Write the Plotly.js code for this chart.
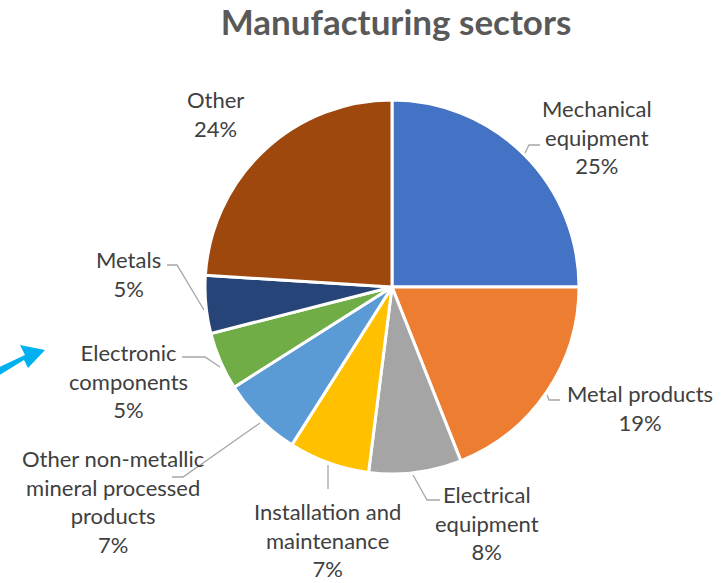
<!DOCTYPE html>
<html>
<head>
<meta charset="utf-8">
<script src="https://cdn.plot.ly/plotly-3.0.1.min.js"></script>
<style>html,body{margin:0;padding:0;background:#fff;}#chart{width:721px;height:583px;}</style>
</head>
<body>
<div id="chart"></div>
<script>
// ---- data ----
const categories = ["Mechanical equipment", "Metal products", "Electrical equipment",
  "Installation and maintenance", "Other non-metallic mineral processed products",
  "Electronic components", "Metals", "Other"];
const shares = [25, 19, 8, 7, 7, 5, 5, 24];
const labelText = ["Mechanical<br>equipment", "Metal products", "Electrical<br>equipment",
  "Installation and<br>maintenance", "Other non-metallic<br>mineral processed<br>products",
  "Electronic<br>components", "Metals", "Other"];
const colors = ["#4472C4", "#ED7D31", "#A5A5A5", "#FFC000", "#5B9BD5", "#70AD47", "#264478", "#9E480E"];

// ---- layout helpers (pixel -> paper) ----
const W = 721, H = 583;
const px = x => x / W;
const py = y => 1 - y / H;

// label block centres (layout positions)
const labelPos = [[597, 137], [640, 408], [487, 523], [327, 540], [113, 501], [128, 381], [128, 274], [216, 114]];
// leader lines (layout)
const leaders = [
  [[540,145],[529,145],[525,153]],
  [[560,400],[549,400],[547,395]],
  [[440,500],[427,500],[413,475]],
  [[328,489],[328,465]],
  [[172,477],[183,477],[260,423]],
  [[182,357],[205,357],[220,367]],
  [[167,265],[177,265],[204,310]]
];

const annotations = categories.map((c, i) => ({
  xref: 'paper', yref: 'paper',
  x: px(labelPos[i][0]), y: py(labelPos[i][1]),
  xanchor: 'center', yanchor: 'middle',
  text: labelText[i] + '<br>' + shares[i] + '%',
  showarrow: false, align: 'center',
  font: {family: 'Lato, "Open Sans", sans-serif', size: 22, color: '#404040'}
}));

const shapes = leaders.map(pts => ({
  type: 'path', xref: 'paper', yref: 'paper',
  path: pts.map((p, k) => (k ? 'L' : 'M') + px(p[0]) + ',' + py(p[1])).join(' '),
  line: {color: '#A6A6A6', width: 1.3}
}));
// decorative arrow on the left
shapes.push({
  type: 'path', xref: 'paper', yref: 'paper',
  path: 'M' + px(-5) + ',' + py(369) + ' L' + px(25) + ',' + py(355) + ' L' + px(20) + ',' + py(345) +
        ' L' + px(45) + ',' + py(350) + ' L' + px(28) + ',' + py(368) + ' L' + px(24) + ',' + py(360) +
        ' L' + px(-2) + ',' + py(376) + ' Z',
  fillcolor: '#00B0F0', line: {width: 0}
});

const trace = {
  type: 'pie',
  labels: categories,
  values: shares,
  sort: false,
  direction: 'clockwise',
  rotation: 0,
  textinfo: 'none',
  marker: {colors: colors, line: {color: '#FFFFFF', width: 3}},
  domain: {x: [px(205), px(579)], y: [py(474), py(100)]},
  showlegend: false,
  hoverinfo: 'label+percent'
};

const layout = {
  width: W, height: H,
  margin: {l: 0, r: 0, t: 0, b: 0},
  paper_bgcolor: '#FFFFFF',
  title: {
    text: '<b>Manufacturing sectors</b>',
    x: px(396), xanchor: 'center', y: py(23), yanchor: 'middle',
    font: {family: 'Lato, "Open Sans", sans-serif', size: 35, color: '#595959'}
  },
  annotations: annotations,
  shapes: shapes,
  showlegend: false
};

Plotly.newPlot('chart', [trace], layout, {displayModeBar: false, staticPlot: true});
</script>
</body>
</html>
